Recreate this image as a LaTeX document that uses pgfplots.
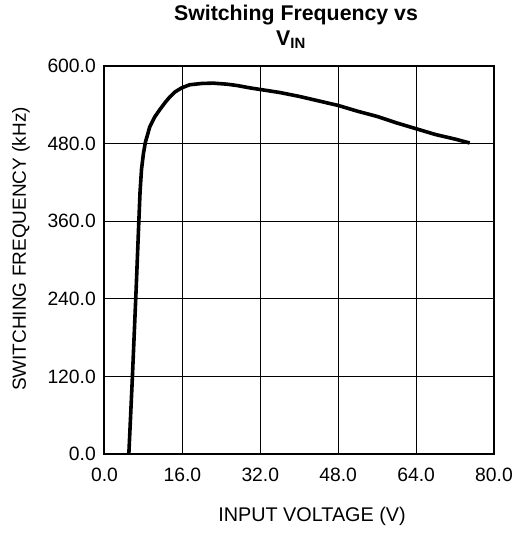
\documentclass[border=0pt]{standalone}
\usepackage{fontspec}
\setmainfont{Liberation Sans}
\usepackage{pgfplots}
\pgfplotsset{compat=1.18}

\pgfplotstableread{
vin fsw
5.0 0
5.7 114
6.5 255
7.0 350
7.3 405
7.6 440
8.0 465
8.4 482
9.3 506
10.3 521
11.4 533
12.5 544
13.4 552
14.5 560
15.8 566
17.5 571
20.0 573
22.3 573.5
25.0 572
27.1 570
30.0 566
32.6 563
36.0 559
40.0 553
44.0 546
48.0 539
52.0 530
56.0 522
60.0 512
64.0 503
68.0 494
72.0 487
75.0 481
}\fswdata

\begin{document}
\begin{tikzpicture}
% fix the page to the reference size (axis box origin at 0,0)
\path[use as bounding box] (-104.5bp,-79bp) rectangle (411.5bp,454bp);
\begin{axis}[
    name=ax,
    at={(0,0)}, anchor=south west,
    scale only axis,
    width=389.5bp, height=388bp,
    xmin=0, xmax=80, ymin=0, ymax=600,
    xtick={0,16,...,80},
    xticklabels={0.0,16.0,32.0,48.0,64.0,80.0},
    ytick={0,120,...,600},
    yticklabels={0.0,120.0,240.0,360.0,480.0,600.0},
    major tick length=0pt,
    grid=major,
    major grid style={black, line width=0.9bp},
    axis line style={black, line width=2bp},
    tick label style={font=\fontsize{19.3bp}{23bp}\selectfont},
    xticklabel style={anchor=center, yshift=-21bp},
    yticklabel style={anchor=east, inner sep=0pt, xshift=-8.5bp},
]
\addplot[black, line width=3.6bp, line join=round] table[x=vin, y=fsw] {\fswdata};
\end{axis}
\node[font=\fontsize{21.3bp}{25bp}\selectfont\bfseries] at (191.5bp,439bp) {Switching Frequency vs};
\node[font=\fontsize{21.3bp}{25bp}\selectfont\bfseries] at (186.5bp,414bp) {V\textsubscript{IN}};
\node[font=\fontsize{19.8bp}{23bp}\selectfont] at (207.5bp,-62bp) {INPUT VOLTAGE (V)};
\node[font=\fontsize{19bp}{23bp}\selectfont, rotate=90] at (-83.5bp,205bp) {SWITCHING FREQUENCY (kHz)};
\end{tikzpicture}
\end{document}
